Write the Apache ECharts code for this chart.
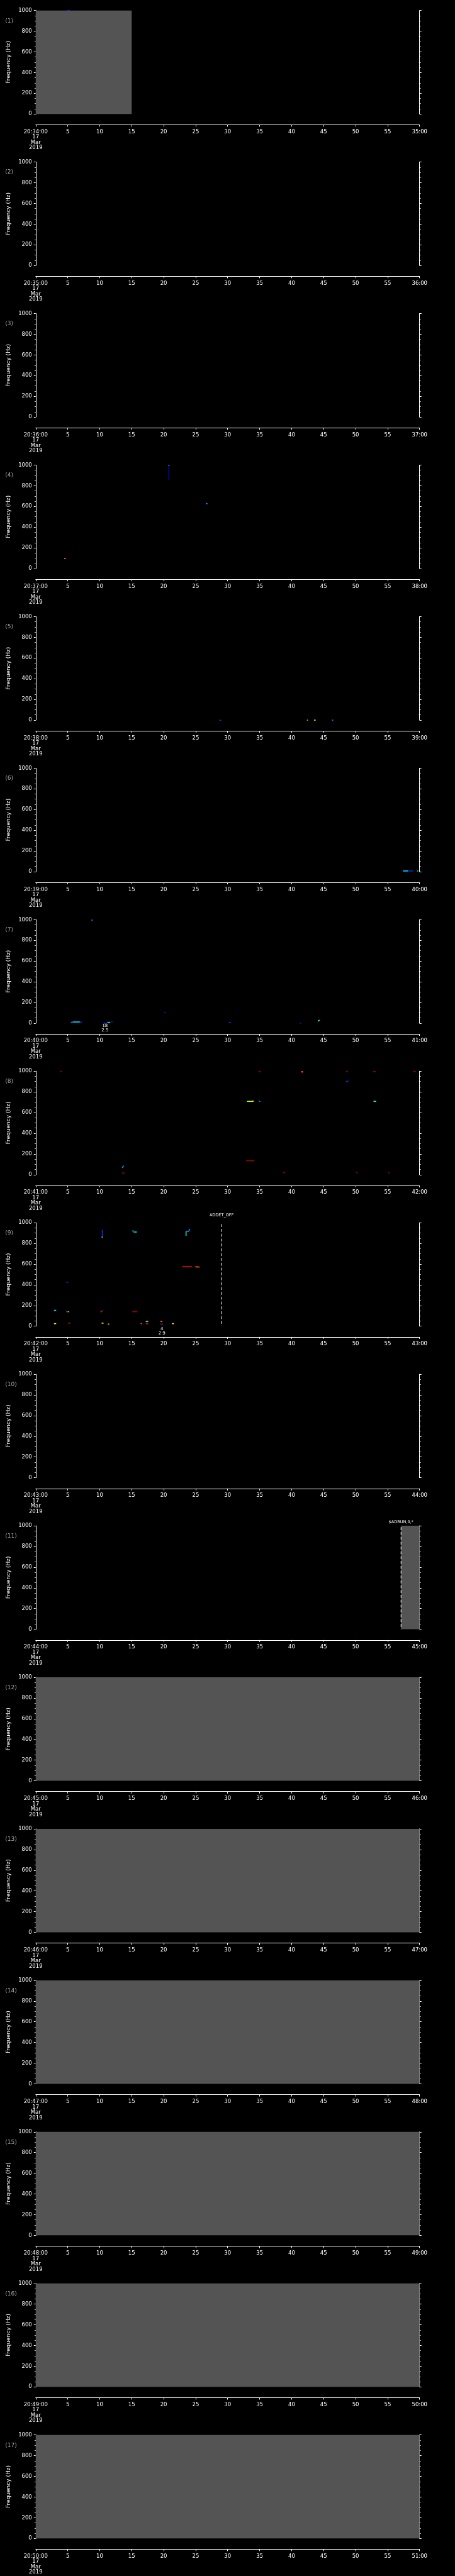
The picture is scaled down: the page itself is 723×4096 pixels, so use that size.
<!DOCTYPE html>
<html><head><meta charset="utf-8">
<script src="https://cdn.jsdelivr.net/npm/echarts@6/dist/echarts.min.js"></script>
<style>html,body{margin:0;padding:0;background:#000;}#c{width:723px;height:4096px;}</style>
</head><body><div id="c"></div>
<script>
// ---- data ----
const startLabels = ['20:34:00','20:35:00','20:36:00','20:37:00','20:38:00','20:39:00','20:40:00','20:41:00','20:42:00','20:43:00','20:44:00','20:45:00','20:46:00','20:47:00','20:48:00','20:49:00','20:50:00'];
const endLabels = ['35:00','36:00','37:00','38:00','39:00','40:00','41:00','42:00','43:00','44:00','45:00','46:00','47:00','48:00','49:00','50:00','51:00'];
const dateLines = ['17','Mar','2019'];
const yTicks = [0,200,400,600,800,1000];
// colour levels of the spectrogram marks
const palette = ['#000090','#0030ff','#0098ff','#00e8ff','#30ffa0','#b8ff30','#ffe400','#ff7000','#e80000','#a00000'];
// marks: [t0 (s), t1 (s), f0 (Hz), f1 (Hz), level]
const marksP1 = [[4.95,5.3,1000,1000,1]];
const marksP4 = [[20.75,20.75,995,855,0],[20.75,20.9,997,997,3],[26.6,26.85,627,627,2],[4.45,4.7,97,97,7]];
const marksP5 = [[28.7,28.85,-1,-1,8],[28.85,29.0,-3,-3,1],[42.3,42.45,-1,-1,1],[42.45,42.55,-1,-1,6],[43.5,43.75,-1,-1,6],[46.3,46.5,-1,-1,2]];
const marksP6 = [[57.4,58.2,6,6,3],[58.2,59.0,6,6,1],[59.6,59.8,6,6,3]];
const marksP7 = [[8.7,8.9,995,995,2],[5.5,5.8,8,8,2],[5.8,6.9,11,11,3],[6.9,7.2,9,9,1],[10.6,11.1,-2,-2,1],[11.2,11.65,7,7,4],[11.8,12.0,11,11,1],[20.1,20.3,102,102,1],[30.2,30.5,7,7,1],[41.3,41.4,-2,-2,1],[44.1,44.3,22,22,6],[44.2,44.4,27,27,3]];
const marksP8 = [[3.8,4.1,996,996,9],[34.8,35.2,995,995,9],[41.5,41.8,996,996,7],[41.65,41.65,995,982,8],[48.5,48.8,996,996,9],[52.7,53.2,995,995,9],[59.0,59.4,996,996,9],[48.5,48.9,900,906,1],[33.0,34.0,708,708,5],[33.8,34.1,711,711,6],[34.9,35.1,708,708,2],[52.8,53.2,708,708,4],[32.9,34.2,136,136,9],[13.5,13.75,66,86,2],[13.5,13.9,16,16,9],[38.7,39.0,21,21,9],[50.1,50.3,21,21,9],[55.1,55.3,21,21,9]];
const marksP9 = [[10.4,10.4,860,933,1],[10.3,10.45,860,860,6],[15.1,15.3,920,920,3],[15.3,15.8,910,910,3],[23.5,23.5,873,916,3],[23.5,23.9,916,916,2],[23.9,24.1,916,940,2],[22.9,24.4,577,577,8],[24.85,25.2,577,577,8],[25.1,25.6,572,572,7],[4.8,5.1,425,425,1],[2.85,3.2,153,153,3],[4.75,5.0,140,140,8],[5.0,5.2,140,140,4],[10.1,10.4,140,140,8],[10.4,10.5,145,156,1],[15.1,15.9,140,140,9],[2.85,3.2,24,24,6],[5.1,5.35,29,29,8],[10.3,10.6,29,29,6],[11.25,11.5,20,20,6],[16.4,16.6,24,24,7],[17.2,17.6,46,46,4],[17.2,17.6,24,24,8],[19.5,19.8,46,46,7],[19.5,19.7,20,20,8],[19.7,19.9,20,20,1],[21.3,21.6,24,24,6]];
const marksByPanel = {1:marksP1,4:marksP4,5:marksP5,6:marksP6,7:marksP7,8:marksP8,9:marksP9};
// no-data (gray) spans: [t0, t1]
const grayByPanel = {1:[[0,15]],11:[[57.1,60]],12:[[0,60]],13:[[0,60]],14:[[0,60]],15:[[0,60]],16:[[0,60]],17:[[0,60]]};
// events: [t, label]
const eventsByPanel = {9:[[29.05,'ADDET_OFF']],11:[[57.1,'$ADRUN,0,*']]};
// annotations below plot: [t, line1, line2]
const notesByPanel = {7:[[10.83,'18','2.5']],9:[[19.72,'4','2.9']]};

// ---- layout ----
const s = 723/1024;
const N = 17, PH = 4096/N;
const GL = 80.4*s, GW = (944.3-80.4)*s, GT = 23.6*s, GH = (256.6-23.6)*s;
const FONT = 'DejaVu Sans';
const eventLift = {'ADDET_OFF':12.3, '$ADRUN,0,*':5.5};

const grids=[], xAxes=[], yAxes=[], series=[], graphics=[];
for (let i=0;i<N;i++){
  const p=i+1;
  grids.push({left:GL, top:i*PH+GT, width:GW, height:GH, containLabel:false, outerBoundsMode:'none', show:false});
  xAxes.push({gridIndex:i, type:'value', min:0, max:60, interval:5, position:'bottom', offset:17.2,
    axisLine:{show:true, onZero:false, lineStyle:{color:'#fff', width:1}},
    axisTick:{show:true, length:3, inside:false, lineStyle:{color:'#fff', width:1}},
    splitLine:{show:false},
    axisLabel:{color:'#fff', fontSize:8.5, fontFamily:FONT, margin:7, lineHeight:8.5, showMinLabel:true, showMaxLabel:true,
      formatter:(v)=> v===0 ? [startLabels[i]].concat(dateLines).join('\n') : (v===60 ? endLabels[i] : String(v))}});
  yAxes.push({gridIndex:i, type:'value', min:0, max:1000, interval:200, position:'left',
    axisLine:{show:true, onZero:false, lineStyle:{color:'#fff', width:1}},
    axisTick:{show:true, length:3, lineStyle:{color:'#fff', width:1}},
    minorTick:{show:true, splitNumber:4, length:1.7, lineStyle:{color:'#fff', width:1}},
    splitLine:{show:false}, minorSplitLine:{show:false},
    axisLabel:{color:'#fff', fontSize:8.5, fontFamily:FONT, margin:6, formatter:(v)=> yTicks.indexOf(v)>=0 ? String(v) : ''},
    name:'Frequency (Hz)', nameLocation:'middle', nameGap:36, nameTextStyle:{color:'#fff', fontSize:9, fontFamily:FONT}});
  yAxes.push({gridIndex:i, type:'value', min:0, max:1000, interval:200, position:'right',
    axisLine:{show:true, onZero:false, lineStyle:{color:'#fff', width:1}},
    axisTick:{show:true, length:3, lineStyle:{color:'#fff', width:1}},
    minorTick:{show:true, splitNumber:4, length:1.7, lineStyle:{color:'#fff', width:1}},
    splitLine:{show:false}, minorSplitLine:{show:false}, axisLabel:{show:false}});
  const yi = 2*i;
  if (grayByPanel[p]) series.push({type:'custom', xAxisIndex:i, yAxisIndex:yi, z:1, silent:true, clip:false,
    data:grayByPanel[p], encode:{x:[0,1]},
    renderItem:(params, api)=>{
      const a=api.coord([api.value(0),1000]), b=api.coord([api.value(1),0]);
      return {type:'rect', shape:{x:a[0], y:a[1], width:b[0]-a[0], height:b[1]-a[1]}, style:{fill:'#545454'}};
    }});
  if (marksByPanel[p]) series.push({type:'custom', xAxisIndex:i, yAxisIndex:yi, z:3, silent:true, clip:false,
    data:marksByPanel[p], encode:{x:[0,1], y:[2,3]},
    renderItem:(params, api)=>{
      const a=api.coord([api.value(0),api.value(2)]), b=api.coord([api.value(1),api.value(3)]);
      let x1=a[0], x2=b[0], y1=a[1], y2=b[1];
      if (Math.abs(x2-x1)<0.5 && Math.abs(y2-y1)<0.5) { x2 = x1+1.5; }
      return {type:'line', shape:{x1:x1, y1:y1, x2:x2, y2:y2}, style:{stroke:palette[api.value(4)], lineWidth:1.6, lineCap:'butt'}};
    }});
  if (eventsByPanel[p]) series.push({type:'custom', xAxisIndex:i, yAxisIndex:yi, z:4, silent:true, clip:false,
    data:eventsByPanel[p].map(e=>[e[0], e[1]]), dimensions:['t','label'], encode:{x:0},
    renderItem:(params, api)=>{
      const ev = eventsByPanel[p][params.dataIndex];
      const top=api.coord([ev[0],987]), bot=api.coord([ev[0],1]);
      const ptop=api.coord([ev[0],1000]);
      return {type:'group', children:[
        {type:'line', shape:{x1:top[0], y1:top[1], x2:bot[0], y2:bot[1]}, style:{stroke:'#fff', lineWidth:1, lineDash:[4.7,3]}},
        {type:'text', x:ptop[0], y:ptop[1]-eventLift[ev[1]], style:{text:ev[1], fill:'#fff', font:'6.5px '+FONT, align:'center', verticalAlign:'middle', textAlign:'center', textVerticalAlign:'middle'}}
      ]};
    }});
  if (notesByPanel[p]) series.push({type:'custom', xAxisIndex:i, yAxisIndex:yi, z:4, silent:true, clip:false,
    data:notesByPanel[p].map(e=>[e[0]]), encode:{x:0},
    renderItem:(params, api)=>{
      const nt = notesByPanel[p][params.dataIndex];
      const b=api.coord([nt[0],0]);
      return {type:'group', children:[
        {type:'text', x:b[0], y:b[1]+4.3, style:{text:nt[1], fill:'#fff', font:'7px '+FONT, align:'center', verticalAlign:'middle', textAlign:'center', textVerticalAlign:'middle'}},
        {type:'text', x:b[0], y:b[1]+11.3, style:{text:nt[2], fill:'#fff', font:'7px '+FONT, align:'center', verticalAlign:'middle', textAlign:'center', textVerticalAlign:'middle'}}
      ]};
    }});
  graphics.push({type:'text', x:8.3, y:i*PH+33.2, silent:true,
    style:{text:'('+p+')', fill:'#a8a8a8', font:'9px '+FONT, align:'left', verticalAlign:'middle', textAlign:'left', textVerticalAlign:'middle'}});
}

const chart = echarts.init(document.getElementById('c'), null, {renderer:'canvas', width:723, height:4096});
chart.setOption({backgroundColor:'#000', animation:false, grid:grids, xAxis:xAxes, yAxis:yAxes, series:series, graphic:graphics});
</script></body></html>
